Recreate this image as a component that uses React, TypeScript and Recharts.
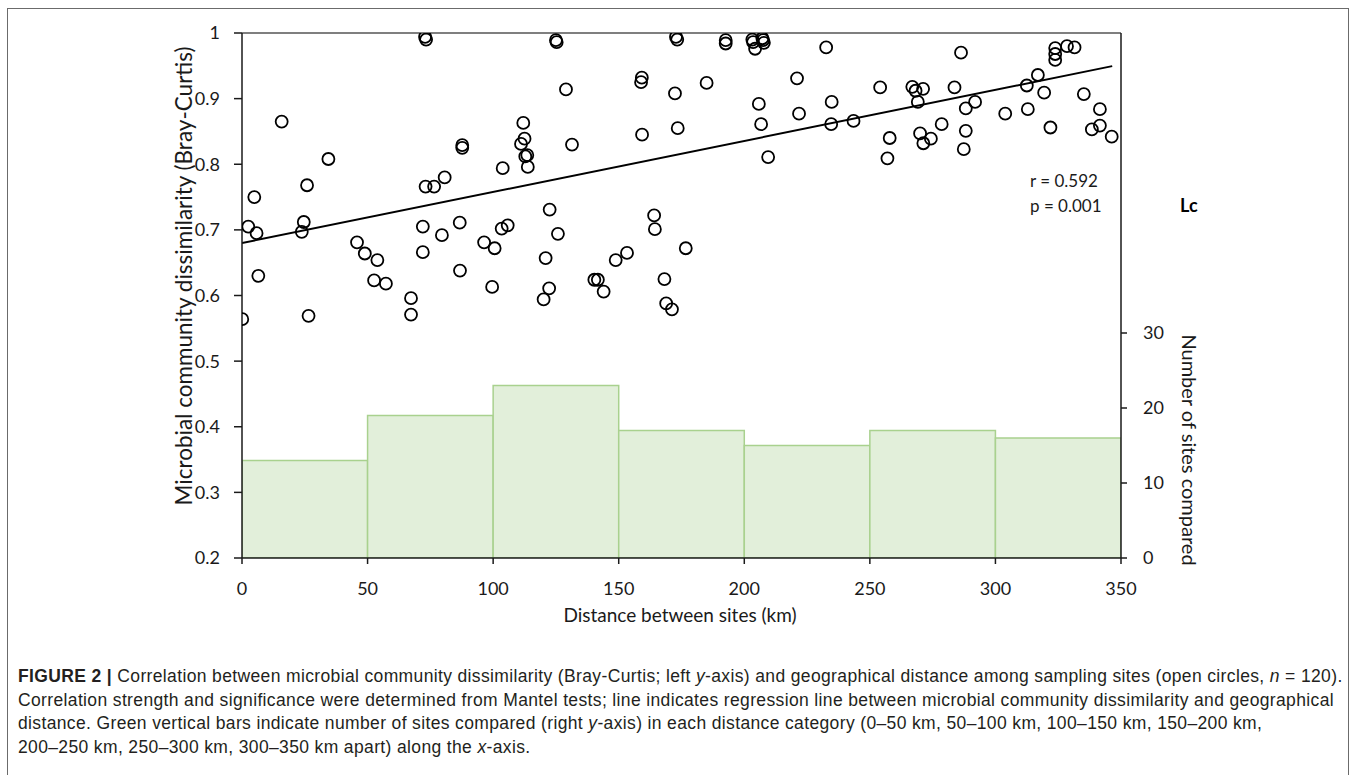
import {
  Bar,
  ComposedChart,
  Line,
  ReferenceLine,
  Scatter,
  XAxis,
  YAxis,
} from "recharts";

// plot frame (page pixels)
const PLOT_LEFT = 242;
const PLOT_RIGHT = 1121;
const PLOT_TOP = 33;
const PLOT_BOTTOM = 558;
const CHART_W = 1357;
const CHART_H = 640;
const LEFT_AXIS_W = 60;
const RIGHT_AXIS_W = 60;
const X_AXIS_H = 40;

// histogram: sites compared per 50 km distance class
const binMid = [25, 75, 125, 175, 225, 275, 325];
const binCount = [13, 19, 23, 17, 15, 17, 16];

// pairwise distance (km) vs Bray-Curtis dissimilarity
const distanceKm = [
  0.1, 2.5, 5.8, 4.9, 6.5, 15.8, 24.6, 23.8, 25.9, 26.5, 34.4, 45.8, 48.9,
  53.9, 52.6, 57.3, 67.3, 67.3, 72.9, 73.3, 73.1, 76.5, 80.7, 72.0, 72.0, 79.6,
  87.7, 87.7, 86.7, 86.8, 96.4, 99.6,
  125, 125.3, 129, 112, 112.5, 111.1, 112.8, 113.6, 113.8, 103.8, 131.4, 122.5,
  125.8, 120.9, 122.3, 120.1, 100.6, 103.4, 105.8, 148.8, 140.3, 141.7, 144,
  159.2, 158.9, 172.8, 173.3, 172.4, 173.5, 159.3, 153.3, 164.1, 164.4, 168.2,
  168.9, 171.2, 176.7, 192.6, 192.6, 185,
  203.2, 207.2, 207.5, 204.3, 203.5, 207.8, 232.6, 221, 205.8, 206.7, 209.5,
  221.8, 234.8, 234.6, 243.5,
  254.1, 257.9, 257, 286.3, 266.9, 268.2, 271.2, 269.1, 283.7, 291.9, 288.2,
  270, 271.3, 274.3, 278.6, 288.2, 287.4,
  323.8, 323.8, 323.8, 328.5, 331.5, 303.9, 312.9, 312.5, 316.9, 319.4, 321.9,
  335.2, 341.6, 341.6, 338.4, 346.3,
];
const dissimilarity = [
  0.564, 0.705, 0.695, 0.75, 0.63, 0.865, 0.712, 0.697, 0.768, 0.569, 0.808, 0.681, 0.664,
  0.654, 0.623, 0.618, 0.596, 0.571, 0.994, 0.99, 0.766, 0.766, 0.78, 0.705, 0.666, 0.692,
  0.825, 0.829, 0.711, 0.638, 0.681, 0.613,
  0.989, 0.986, 0.914, 0.863, 0.839, 0.831, 0.812, 0.814, 0.796, 0.794, 0.83, 0.731,
  0.694, 0.657, 0.611, 0.594, 0.672, 0.702, 0.707, 0.654, 0.624, 0.624, 0.606,
  0.932, 0.925, 0.994, 0.99, 0.908, 0.855, 0.845, 0.665, 0.722, 0.701, 0.625,
  0.588, 0.579, 0.672, 0.989, 0.984, 0.924,
  0.99, 0.992, 0.989, 0.976, 0.986, 0.985, 0.978, 0.931, 0.892, 0.861, 0.811,
  0.877, 0.895, 0.861, 0.866,
  0.917, 0.84, 0.809, 0.97, 0.918, 0.912, 0.915, 0.895, 0.917, 0.895, 0.885,
  0.847, 0.832, 0.839, 0.861, 0.851, 0.823,
  0.977, 0.968, 0.959, 0.98, 0.978, 0.877, 0.884, 0.92, 0.936, 0.909, 0.856,
  0.907, 0.884, 0.859, 0.853, 0.842,
];

// regression line end points
const regX = [0, 346.5];
const regY = [0.68, 0.9495];

const xTicks = [0, 50, 100, 150, 200, 250, 300, 350];
const leftTicks = [0.2, 0.3, 0.4, 0.5, 0.6, 0.7, 0.8, 0.9, 1];
const rightTicks = [0, 10, 20, 30];

const bins = binMid.map((x, i) => ({ x, count: binCount[i] }));
const points = distanceKm.map((x, i) => ({ x, y: dissimilarity[i] }));
const regression = regX.map((x, i) => ({ x, y: regY[i] }));

const chartFont = "Lato, 'Open Sans', sans-serif";
const tickStyle = { fontSize: 18, fill: "#1a1a1a", fontFamily: chartFont };
const captionFont = "'Liberation Sans Narrow', 'Liberation Sans', Arial, sans-serif";

// each bin spans a full 50 km class
const BIN_PX = (PLOT_RIGHT - PLOT_LEFT) / binMid.length;

const OpenCircle = (props: any) => (
  <circle cx={props.cx} cy={props.cy} r={6} fill="none" stroke="#000" strokeWidth={1.8} />
);

// bar centred on the scaled bin midpoint, widened to the whole class
const BinRect = (props: any) => {
  const cx = props.x + props.width / 2;
  return (
    <rect
      x={cx - BIN_PX / 2}
      y={props.y}
      width={BIN_PX}
      height={props.height}
      fill="#e2efda"
      stroke="#a9d18e"
      strokeWidth={1.5}
    />
  );
};

export default function App() {
  return (
    <div style={{ position: "relative", width: CHART_W, height: 775, overflow: "hidden", background: "#fff" }}>
      <style>{"body{margin:0}"}</style>

      {/* figure frame */}
      <div
        style={{
          position: "absolute",
          left: 7,
          top: 8,
          width: 1342,
          height: 800,
          border: "1px solid #6b6b6b",
          boxSizing: "border-box",
        }}
      />

      <div style={{ position: "absolute", left: 0, top: 0 }}>
        <ComposedChart
          width={CHART_W}
          height={CHART_H}
          data={bins}
          margin={{
            top: PLOT_TOP,
            left: PLOT_LEFT - LEFT_AXIS_W,
            right: CHART_W - PLOT_RIGHT - RIGHT_AXIS_W,
            bottom: CHART_H - PLOT_BOTTOM - X_AXIS_H,
          }}
        >
          <XAxis
            dataKey="x"
            type="number"
            domain={[0, 350]}
            ticks={xTicks}
            allowDataOverflow
            height={X_AXIS_H}
            tickSize={6}
            tickMargin={18}
            tick={tickStyle}
            axisLine={{ stroke: "#1a1a1a", strokeWidth: 1.5 }}
            tickLine={{ stroke: "#1a1a1a", strokeWidth: 1.5 }}
          />
          <YAxis
            yAxisId="left"
            orientation="left"
            type="number"
            domain={[0.2, 1]}
            ticks={leftTicks}
            allowDataOverflow
            width={LEFT_AXIS_W}
            tickSize={8}
            tickMargin={14}
            tick={tickStyle}
            tickFormatter={(v: number) => (v === 1 ? "1" : v.toFixed(1))}
            axisLine={{ stroke: "#1a1a1a", strokeWidth: 1.5 }}
            tickLine={{ stroke: "#1a1a1a", strokeWidth: 1.5 }}
          />
          <YAxis
            yAxisId="right"
            orientation="right"
            type="number"
            domain={[0, 70]}
            ticks={rightTicks}
            allowDataOverflow
            width={RIGHT_AXIS_W}
            tickSize={6}
            tickMargin={16}
            tick={{ ...tickStyle, textAnchor: "start" }}
            axisLine={{ stroke: "#1a1a1a", strokeWidth: 1.5 }}
            tickLine={{ stroke: "#1a1a1a", strokeWidth: 1.5 }}
          />
          <Bar
            yAxisId="right"
            dataKey="count"
            shape={BinRect}
            isAnimationActive={false}
          />
          <ReferenceLine yAxisId="left" y={1} stroke="#555" strokeWidth={1.5} />
          <Line
            yAxisId="left"
            data={regression}
            dataKey="y"
            type="linear"
            stroke="#000"
            strokeWidth={2}
            dot={false}
            activeDot={false}
            isAnimationActive={false}
          />
          <Scatter
            yAxisId="left"
            data={points}
            dataKey="y"
            shape={OpenCircle}
            isAnimationActive={false}
          />
        </ComposedChart>
      </div>

      {/* axis titles and annotations */}
      <div
        style={{
          position: "absolute",
          left: 183,
          top: 276,
          transform: "translate(-50%, -50%) rotate(-90deg)",
          whiteSpace: "nowrap",
          fontFamily: chartFont,
          fontSize: 22.5,
          color: "#1a1a1a",
        }}
      >
        Microbial community dissimilarity (Bray-Curtis)
      </div>
      <div
        style={{
          position: "absolute",
          left: 1190,
          top: 450,
          transform: "translate(-50%, -50%) rotate(90deg)",
          whiteSpace: "nowrap",
          fontFamily: chartFont,
          fontSize: 20,
          color: "#1a1a1a",
        }}
      >
        Number of sites compared
      </div>
      <div
        style={{
          position: "absolute",
          left: 680,
          top: 614,
          transform: "translate(-50%, -50%)",
          whiteSpace: "nowrap",
          fontFamily: chartFont,
          fontSize: 19,
          color: "#1a1a1a",
        }}
      >
        Distance between sites (km)
      </div>
      <div
        style={{
          position: "absolute",
          left: 1030,
          top: 168,
          fontFamily: chartFont,
          fontSize: 17,
          lineHeight: "25px",
          color: "#1a1a1a",
          whiteSpace: "nowrap",
        }}
      >
        <div>r = 0.592</div>
        <div>p = 0.001</div>
      </div>
      <div
        style={{
          position: "absolute",
          left: 1180,
          top: 194,
          fontFamily: chartFont,
          fontSize: 18,
          fontWeight: 700,
          color: "#000",
        }}
      >
        Lc
      </div>

      {/* caption */}
      <div
        style={{
          position: "absolute",
          left: 18,
          top: 665,
          fontFamily: captionFont,
          fontSize: 17.5,
          letterSpacing: 0.36,
          lineHeight: "23.5px",
          color: "#231f20",
          whiteSpace: "nowrap",
        }}
      >
        <div>
          <b>FIGURE 2 |</b> Correlation between microbial community dissimilarity (Bray-Curtis; left <i>y</i>-axis) and
          geographical distance among sampling sites (open circles, <i>n</i> = 120).
        </div>
        <div>
          Correlation strength and significance were determined from Mantel tests; line indicates regression line between
          microbial community dissimilarity and geographical
        </div>
        <div>
          distance. Green vertical bars indicate number of sites compared (right <i>y</i>-axis) in each distance category
          (0–50 km, 50–100 km, 100–150 km, 150–200 km,
        </div>
        <div>
          200–250 km, 250–300 km, 300–350 km apart) along the <i>x</i>-axis.
        </div>
      </div>
    </div>
  );
}
